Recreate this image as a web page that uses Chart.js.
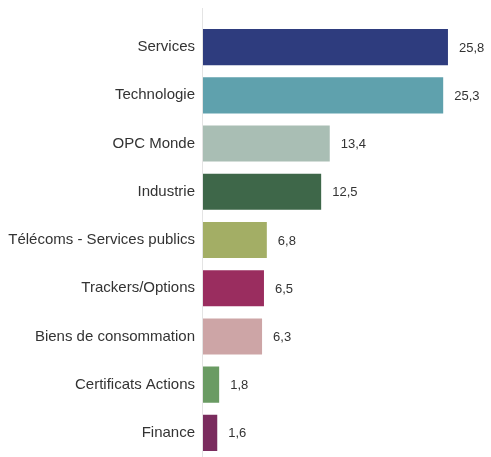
<!DOCTYPE html>
<html>
<head>
<meta charset="utf-8">
<script src="https://cdn.jsdelivr.net/npm/chart.js@4"></script>
<style>
  html, body { margin: 0; padding: 0; background: #fff; }
  #wrap { width: 491px; height: 457px; }
</style>
</head>
<body>
<div id="wrap"><canvas id="sectorChart"></canvas></div>
<script>
// ========================
//    data
// ========================
const categories = [
  "Services", "Technologie", "OPC Monde", "Industrie",
  "Télécoms - Services publics", "Trackers/Options",
  "Biens de consommation", "Certificats Actions", "Finance"
];
const values = [25.8, 25.3, 13.4, 12.5, 6.8, 6.5, 6.3, 1.8, 1.6];
const barColors = [
  "#2e3c7e", "#5fa1ad", "#a9beb4", "#3e6749", "#a3ae65",
  "#9a2d5f", "#cda5a6", "#6a9b63", "#7a2c5e"
];

// value labels right of bars + axis line
const valueLabels = {
  id: "valueLabels",
  afterDatasetsDraw(chart) {
    const ctx = chart.ctx;
    const meta = chart.getDatasetMeta(0);
    ctx.save();
    ctx.font = "13px 'Liberation Sans', Arial, sans-serif";
    ctx.fillStyle = "#333";
    ctx.textAlign = "left";
    ctx.textBaseline = "middle";
    meta.data.forEach((bar, i) => {
      ctx.fillText(values[i].toFixed(1).replace(".", ","), bar.x + 10, bar.y + 1);
    });
    // vertical axis line
    const x = chart.chartArea.left - 0.5;
    ctx.strokeStyle = "#e4e4e4";
    ctx.lineWidth = 1;
    ctx.beginPath();
    ctx.moveTo(x, 8);
    ctx.lineTo(x, chart.height);
    ctx.stroke();
    ctx.restore();
  }
};

new Chart(document.getElementById("sectorChart"), {
  type: "bar",
  data: {
    labels: categories,
    datasets: [{
      data: values,
      backgroundColor: barColors,
      borderColor: "rgba(255,255,255,0.35)",
      borderWidth: 1,
      categoryPercentage: 1,
      barPercentage: 0.79
    }]
  },
  options: {
    indexAxis: "y",
    responsive: true,
    maintainAspectRatio: false,
    animation: false,
    layout: { padding: { top: 23, right: 2, left: 0, bottom: 0 } },
    plugins: { legend: { display: false }, tooltip: { enabled: false } },
    scales: {
      x: { display: false, min: 0, max: 30 },
      y: {
        grid: { display: false, drawTicks: false },
        border: { display: false },
        ticks: {
          color: "#333",
          padding: 8,
          font: { family: "'Liberation Sans', Arial, sans-serif", size: 15 }
        },
        afterFit(scale) {
          scale.width = 203;
          scale.paddingTop = 0;
          scale.paddingBottom = 0;
        }
      }
    }
  },
  plugins: [valueLabels]
});
</script>
</body>
</html>
